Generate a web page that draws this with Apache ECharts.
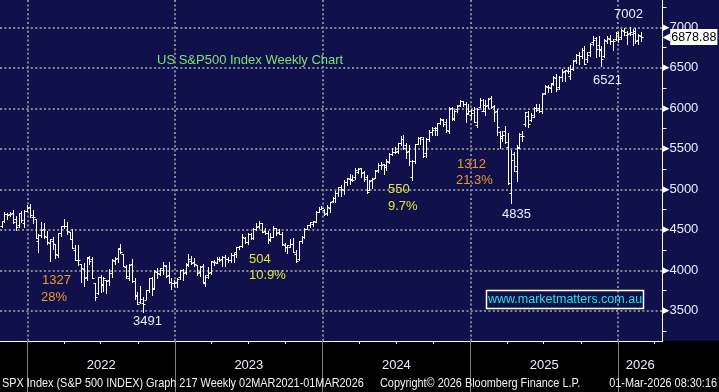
<!DOCTYPE html>
<html><head><meta charset="utf-8">
<script src="https://cdn.jsdelivr.net/npm/echarts@6/dist/echarts.min.js"></script>
<style>
html,body{margin:0;padding:0;background:#000;}
#c{width:719px;height:392px;background:linear-gradient(to bottom,#10104a 0,#10104a 341px,#000 341px,#000 392px);}
</style></head><body><div id="c"></div>
<script>
// Weekly bars, dated by week-ending Friday, first bar on this date
const firstWeekEnd = [2021, 9, 29];
// [open, high, low, close]
const ohlc2021 = [
[4548,4608,4538,4605],[4610,4718,4595,4697],[4699,4705,4630,4682],[4689,4718,4672,4698],[4712,4744,4585,4595],
[4628,4672,4495,4538],[4564,4713,4531,4712],[4710,4731,4600,4620],[4587,4740,4531,4726],[4733,4808,4733,4766]];
const ohlc2022 = [
[4778,4818,4662,4677],[4655,4749,4582,4662],[4632,4632,4395,4398],[4357,4453,4222,4432],
[4431,4595,4414,4501],[4505,4590,4401,4419],[4412,4490,4328,4349],[4332,4385,4115,4385],
[4364,4416,4267,4329],[4322,4329,4157,4204],[4188,4465,4162,4463],[4462,4546,4424,4543],
[4541,4637,4517,4546],[4548,4593,4450,4488],[4474,4474,4381,4392],[4385,4513,4270,4272],[4255,4308,4125,4132],
[4130,4307,4063,4123],[4082,4082,3859,4023],[4013,4090,3811,3901],[3920,4158,3876,4158],
[4153,4178,4074,4109],[4135,4169,3900,3901],[3838,3838,3637,3675],[3715,3913,3705,3912],
[3920,3945,3738,3825],[3815,3918,3742,3899],[3880,3880,3721,3863],[3883,4012,3818,3962],[3966,4140,3911,4130],
[4112,4167,4079,4145],[4155,4280,4107,4280],[4269,4325,4218,4228],[4195,4204,4057,4058],
[4042,4062,3907,3924],[3909,4077,3886,4067],[4083,4140,3855,3873],[3872,3907,3647,3693],[3683,3736,3584,3586],
[3610,3806,3591,3640],[3593,3676,3491,3583],[3638,3762,3640,3752],[3758,3905,3736,3901],
[3902,3911,3698,3770],[3778,4001,3767,3992],[3982,4028,3906,3965],[3956,4034,3938,4026],
[4005,4101,3949,4071],[4053,4067,3919,3934],[3939,4101,3838,3852],[3854,3906,3764,3845],[3843,3879,3800,3839]];
const ohlc2023 = [
[3853,3906,3794,3895],[3911,4003,3888,3999],[3999,4015,3885,3972],[3979,4095,3953,4070],
[4073,4195,4048,4136],[4119,4176,4080,4090],[4105,4156,4047,4079],[4066,4067,3944,3970],
[3983,4049,3928,4045],[4055,4079,3847,3861],[3847,3940,3808,3917],[3942,4039,3901,3971],[3975,4110,3951,4109],
[4102,4133,4069,4105],[4096,4164,4086,4137],[4137,4169,4114,4133],[4134,4171,4050,4169],
[4166,4186,4048,4136],[4138,4166,4099,4124],[4126,4213,4099,4191],[4190,4213,4103,4205],
[4220,4291,4166,4282],[4282,4299,4258,4299],[4304,4448,4290,4410],[4396,4409,4341,4348],[4354,4458,4329,4450],
[4451,4456,4385,4399],[4404,4528,4390,4505],[4505,4578,4492,4536],[4543,4607,4528,4582],
[4578,4584,4474,4478],[4491,4528,4449,4464],[4464,4490,4335,4370],[4389,4458,4356,4406],
[4415,4541,4412,4516],[4519,4519,4431,4457],[4473,4511,4443,4450],[4454,4469,4316,4320],[4313,4338,4238,4288],
[4284,4317,4217,4308],[4289,4385,4283,4327],[4320,4393,4223,4224],[4196,4255,4104,4117],
[4140,4366,4128,4358],[4365,4418,4340,4415],[4406,4521,4393,4514],[4514,4561,4511,4559],
[4554,4599,4537,4595],[4569,4609,4546,4604],[4593,4738,4592,4719],[4725,4778,4715,4755],[4758,4793,4751,4770]];
const ohlc2024 = [
[4745,4755,4682,4697],[4703,4802,4682,4784],[4772,4842,4714,4840],[4853,4907,4845,4891],
[4888,4975,4845,4959],[4957,5030,4918,5027],[5026,5048,4920,5006],[4989,5111,4946,5089],
[5093,5140,5057,5137],[5132,5190,5070,5124],[5111,5179,5104,5117],[5154,5262,5133,5234],[5219,5265,5204,5254],
[5258,5265,5146,5204],[5218,5222,5108,5123],[5150,5176,4953,4967],[4988,5114,4987,5100],
[5114,5139,5011,5128],[5142,5239,5142,5223],[5233,5325,5212,5303],[5305,5341,5256,5305],[5316,5316,5191,5278],
[5297,5375,5234,5347],[5341,5447,5324,5431],[5433,5506,5429,5464],[5459,5524,5448,5460],
[5471,5570,5448,5567],[5572,5655,5546,5615],[5615,5669,5497,5505],[5544,5566,5390,5459],
[5476,5551,5305,5346],[5151,5358,5119,5344],[5353,5555,5330,5554],[5558,5643,5561,5634],[5636,5651,5560,5648],
[5623,5651,5402,5408],[5442,5636,5402,5626],[5615,5733,5601,5703],[5703,5767,5674,5738],
[5757,5765,5674,5751],[5737,5822,5674,5815],[5820,5878,5805,5864],[5853,5863,5779,5808],
[5833,5863,5702,5729],[5724,6013,5696,5995],[6008,6018,5853,5870],[5875,5973,5853,5969],[5992,6044,5956,6032],
[6040,6100,6024,6090],[6084,6085,6024,6051],[6058,6081,5833,5931],[5942,6050,5932,5970]];
const ohlc2025 = [
[5920,5986,5867,5942],[5982,6022,5825,5827],[5797,5999,5773,5997],[6014,6128,6014,6101],[5969,6120,5963,6041],
[5969,6101,5923,6026],[6046,6127,6003,6115],[6122,6147,6008,6013],[6026,6044,5837,5955],
[5968,5986,5667,5770],[5706,5715,5505,5639],[5659,5715,5598,5667],[5718,5787,5572,5581],
[5527,5695,5070,5074],[4953,5481,4835,5363],[5441,5459,5220,5283],[5232,5551,5101,5525],
[5510,5700,5506,5687],[5655,5720,5597,5660],[5808,5959,5786,5958],[5902,5968,5768,5803],[5854,5944,5838,5912],
[5897,6016,5891,6000],[6004,6059,5964,5977],[6004,6050,5952,5968],[5969,6187,5943,6173],
[6193,6285,6174,6279],[6258,6290,6201,6260],[6255,6316,6202,6297],[6307,6395,6290,6389],
[6375,6428,6212,6238],[6260,6395,6233,6389],[6389,6481,6343,6450],[6455,6475,6343,6467],[6457,6509,6430,6460],
[6401,6532,6361,6482],[6490,6592,6470,6584],[6594,6671,6562,6664],[6661,6699,6551,6644],
[6640,6750,6616,6716],[6725,6764,6550,6553],[6610,6700,6570,6664],[6690,6807,6647,6792],[6820,6890,6785,6840],
[6870,6880,6631,6728],[6780,6890,6646,6734],[6720,6770,6521,6603],[6650,6850,6630,6849],
[6830,6895,6810,6870],[6850,6901,6790,6827],[6830,6860,6720,6834],[6850,6945,6840,6930]];
const ohlc2026 = [
[6930,6945,6824,6858],[6880,6980,6850,6966],[6950,6986,6900,6940],[6900,6960,6790,6915],[6930,7002,6900,6939],
[6920,6980,6780,6932],[6950,6990,6800,6836],[6840,6920,6790,6909],[6890,6940,6830,6878.88]];

const yLabelValues = [3500,4000,4500,5000,5500,6000,6500,7000];
const yMinorValues = [3250,3750,4250,4750,5250,5750,6250,6750,7250];
const yearStarts = [2022,2023,2024,2025,2026];
const titleText = 'US S&P500 Index Weekly Chart';
const drawdowns = [['1327','28%'],['504','10.9%'],['550','9.7%'],['1312','21.3%']];
const extremes = ['3491','4835','6521','7002'];
const siteText = 'www.marketmatters.com.au';
const footer = ['SPX Index (S&P 500 INDEX) Graph 217 Weekly 02MAR2021-01MAR2026',
                'Copyright\u00a9 2026 Bloomberg Finance L.P.',
                '01-Mar-2026 08:30:16'];

const DAY = 86400000;
const allBars = [].concat(ohlc2021, ohlc2022, ohlc2023, ohlc2024, ohlc2025, ohlc2026);
const t0 = Date.UTC(firstWeekEnd[0], firstWeekEnd[1], firstWeekEnd[2]);
const seriesData = allBars.map((b, i) => [t0 + i * 7 * DAY, b[0], b[1], b[2], b[3]]);
const last = seriesData[seriesData.length - 1];
const lastClose = last[4];

const xMin = Date.UTC(2021, 9, 25), xMax = Date.UTC(2026, 3, 21);
const yearTicks = yearStarts.map(y => Date.UTC(y, 0, 1));
const quarterTicks = [];
yearStarts.forEach(y => [3, 6, 9].forEach(m => quarterTicks.push(Date.UTC(y, m, 1))));
quarterTicks.push(Date.UTC(2021, 9, 1));
const yearLabelPos = yearTicks.map(t => {
  const end = Math.min(t + 365.25 * DAY, xMax);
  return (t + end) / 2;
});

const FONT = 'Liberation Sans, Arial, sans-serif';
const grid = '#85859a';
const orange = '#f0962a', yellow = '#e4e43a', white = '#e8eeff';

function renderOHLC(params, api) {
  const t = api.value(0);
  const pO = api.coord([t, api.value(1)]);
  const pH = api.coord([t, api.value(2)]);
  const pL = api.coord([t, api.value(3)]);
  const pC = api.coord([t, api.value(4)]);
  const x = Math.round(pO[0]) + 0.5;
  const yo = Math.round(pO[1]) + 0.5, yc = Math.round(pC[1]) + 0.5;
  const st = { stroke: '#ffffff', lineWidth: 1 };
  return { type: 'group', children: [
    { type: 'line', shape: { x1: x, y1: Math.round(pH[1]), x2: x, y2: Math.round(pL[1]) + 1 }, style: st },
    { type: 'line', shape: { x1: x - 2, y1: yo, x2: x, y2: yo }, style: st },
    { type: 'line', shape: { x1: x, y1: yc, x2: x + 2, y2: yc }, style: st }
  ]};
}

function txt(text, x, y, color, size, align, scaleY) {
  return { type: 'text', x: x, y: y, z: 50, silent: true, scaleY: scaleY || 1,
    style: { text: text, fill: color, fontSize: size || 13, fontFamily: FONT,
             align: align || 'left', verticalAlign: 'middle' } };
}

const chart = echarts.init(document.getElementById('c'), null, { renderer: 'canvas' });
chart.setOption({
  animation: false,
  backgroundColor: 'transparent',
  useUTC: true,
  grid: { left: 0, right: 56.5, top: 0, bottom: 51, show: false },
  xAxis: [{
    type: 'value', min: xMin, max: xMax, position: 'bottom',
    axisLine: { show: true, lineStyle: { color: '#ffffff', width: 1 } },
    axisTick: { show: true, customValues: yearTicks, length: 51, lineStyle: { color: '#808080', width: 1 } },
    splitLine: { show: true, lineStyle: { color: grid, width: 2, type: [2, 2.4] } },
    axisLabel: { show: true, customValues: yearLabelPos, margin: 18, color: white, fontSize: 13, fontFamily: FONT,
                 formatter: v => String(new Date(v).getUTCFullYear()) }
  }, {
    type: 'value', min: xMin, max: xMax, position: 'bottom',
    axisLine: { show: false },
    axisTick: { show: true, customValues: quarterTicks, length: 3, lineStyle: { color: '#ffffff', width: 1 } },
    splitLine: { show: false }, axisLabel: { show: false }
  }],
  yAxis: [{
    type: 'value', min: 3127, max: 7337, position: 'right',
    axisLine: { show: true, lineStyle: { color: '#ffffff', width: 1 } },
    axisTick: { show: false, customValues: yLabelValues },
    splitLine: { show: true, lineStyle: { color: grid, width: 2, type: [2, 2.4] } },
    axisLabel: { show: true, customValues: yLabelValues, margin: 0, fontFamily: FONT,
      formatter: v => '{t|\u25B6}{v|' + v + '}',
      rich: { t: { color: '#ffffff', fontSize: 9, fontFamily: 'DejaVu Sans' },
              v: { color: white, fontSize: 13, fontFamily: FONT } } }
  }, {
    type: 'value', min: 3127, max: 7337, position: 'right',
    axisLine: { show: false },
    axisTick: { show: true, customValues: yMinorValues, length: 4, lineStyle: { color: '#ffffff', width: 1 } },
    splitLine: { show: false }, axisLabel: { show: false }
  }],
  series: [{
    type: 'custom', xAxisIndex: 0, yAxisIndex: 0, renderItem: renderOHLC,
    encode: { x: 0, y: [1, 2, 3, 4] }, data: seriesData, clip: true, silent: true
  }, {
    type: 'line', xAxisIndex: 0, yAxisIndex: 0, data: [[last[0], lastClose]], symbol: 'none', silent: true,
    lineStyle: { color: 'rgba(0,0,0,0)' },
    markLine: { silent: true, symbol: ['none', 'none'], lineStyle: { color: 'rgba(0,0,0,0)' },
      label: { show: true, position: 'end', distance: 0,
        formatter: '{a|\u25C0}{b|' + lastClose.toFixed(2) + '}',
        rich: { a: { color: '#ffffff', fontSize: 10, fontFamily: 'DejaVu Sans', padding: [0, 0, 0, 0] },
                b: { color: '#000000', backgroundColor: '#ffffff', fontSize: 12.5, fontFamily: FONT, padding: [2, 1, 1, 1] } } },
      data: [{ yAxis: lastClose }] }
  }],
  graphic: [
    txt(titleText, 157, 60, '#7de07d', 13),
    txt(drawdowns[0][0], 42, 280, orange), txt(drawdowns[0][1], 41, 297, orange),
    txt(drawdowns[1][0], 249, 259, yellow), txt(drawdowns[1][1], 249, 275.5, yellow),
    txt(drawdowns[2][0], 388, 189.5, yellow), txt(drawdowns[2][1], 388, 206, yellow),
    txt(drawdowns[3][0], 457, 164, orange), txt(drawdowns[3][1], 456, 180.5, orange),
    txt(extremes[0], 133, 321, white), txt(extremes[1], 502, 214, white),
    txt(extremes[2], 593, 80, white), txt(extremes[3], 614, 14, white),
    { type: 'rect', z: 49, silent: true, shape: { x: 486.5, y: 290.5, width: 157, height: 18 },
      style: { fill: 'rgba(0,0,0,0)', stroke: '#ffffff', lineWidth: 1.5 } },
    txt(siteText, 565, 299.5, '#22e2e2', 12.5, 'center'),
    txt(footer[0], 2, 384, '#f2f2f2', 10.9, 'left', 1.15),
    txt(footer[1], 380, 384, '#f2f2f2', 10.9, 'left', 1.15),
    txt(footer[2], 717, 384, '#f2f2f2', 10.9, 'right', 1.15)
  ]
});
</script></body></html>
